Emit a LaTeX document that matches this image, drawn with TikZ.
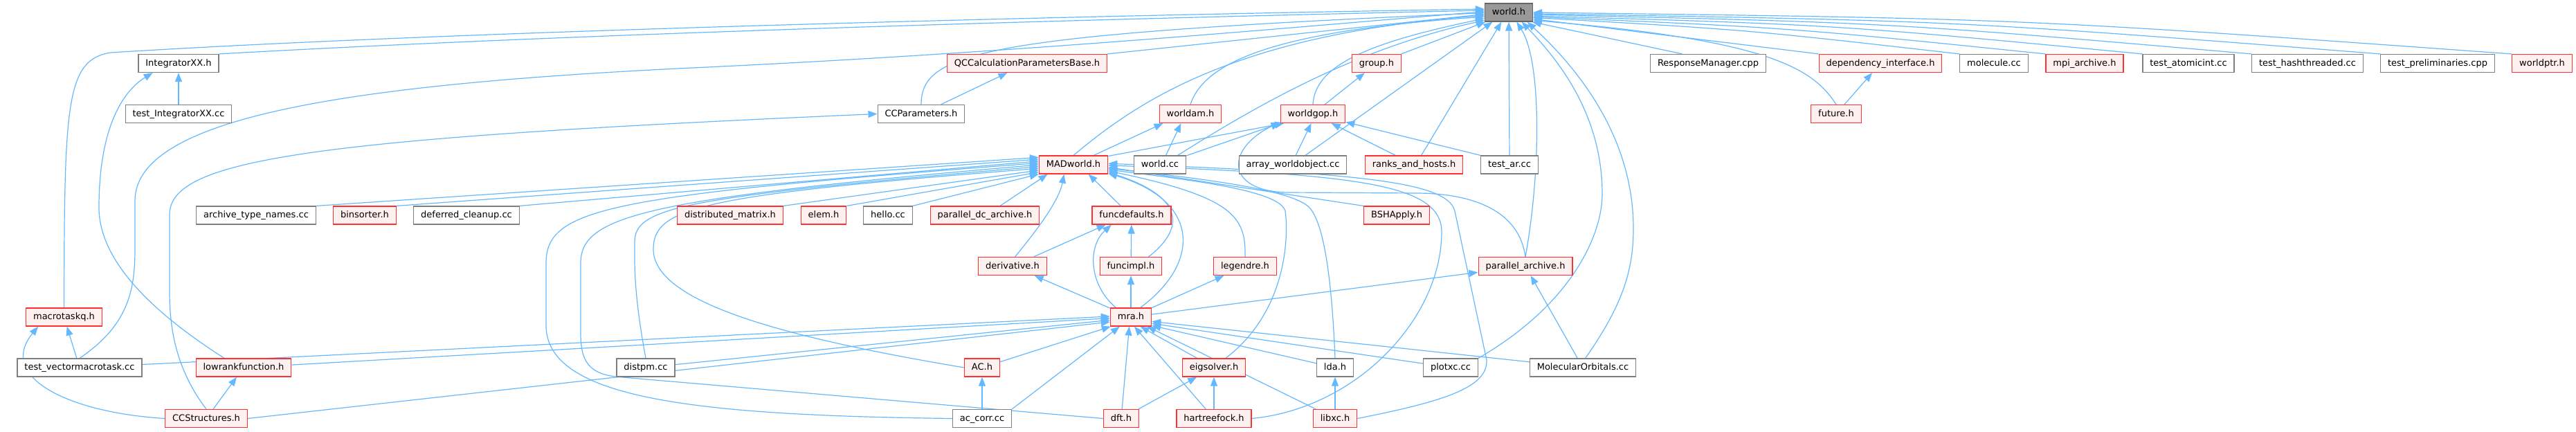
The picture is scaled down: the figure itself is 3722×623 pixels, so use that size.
\documentclass[tikz,border=0pt]{standalone}
\usepackage{fontspec}
\setmainfont{DejaVu Sans}
\usepackage{tikz}
\usetikzlibrary{arrows.meta, backgrounds}
\definecolor{edgeblue}{HTML}{63B8FF}
\definecolor{hdrred}{HTML}{FF3030}
\definecolor{hdrfill}{HTML}{FFF0F0}
\definecolor{srcgrey}{HTML}{7F7F7F}
\definecolor{rootfill}{HTML}{999999}
\definecolor{rootline}{HTML}{666666}

\begin{document}
\begin{tikzpicture}[
  x=0.5pt, y=-0.5pt,
  file/.style={rectangle, draw=srcgrey, fill=white, line width=0.6pt, minimum height=13pt, inner xsep=5.2pt, inner ysep=0pt, text height=4.9pt, text depth=1.4pt, font=\fontsize{6.5}{7.5}\selectfont},
  hdr/.style={file, draw=hdrred, fill=hdrfill},
  root/.style={file, draw=rootline, fill=rootfill},
  dep/.style={-{Triangle[length=6.5pt, width=5pt]}, edgeblue, line width=0.6pt}
]
  \useasboundingbox (0,0) rectangle (3722,623);

  \node[root] (world) at (2180,18) {world.h};

  \node[file] (integ) at (258,91.5) {IntegratorXX.h};
  \node[hdr] (qcc) at (1484,91.5) {QCCalculationParametersBase.h};
  \node[hdr] (group) at (1989,91.5) {group.h};
  \node[file] (respmgr) at (2468,91.5) {ResponseManager.cpp};
  \node[hdr] (depif) at (2717,91.5) {dependency\_interface.h};
  \node[file] (molcc) at (2881,91.5) {molecule.cc};
  \node[hdr] (mpiar) at (3012,91.5) {mpi\_archive.h};
  \node[file] (tatomic) at (3162,91.5) {test\_atomicint.cc};
  \node[file] (thash) at (3334,91.5) {test\_hashthreaded.cc};
  \node[file] (tprelim) at (3522,91.5) {test\_preliminaries.cpp};
  \node[hdr] (worldptr) at (3673,91.5) {worldptr.h};

  \node[file] (tinteg) at (258,164.5) {test\_IntegratorXX.cc};
  \node[file] (ccparam) at (1331,164.5) {CCParameters.h};
  \node[hdr] (worldam) at (1720,164.5) {worldam.h};
  \node[hdr] (worldgop) at (1897,164.5) {worldgop.h};
  \node[hdr] (future) at (2653,164.5) {future.h};

  \node[hdr] (madworld) at (1551,238) {MADworld.h};
  \node[file] (worldcc) at (1676,238) {world.cc};
  \node[file] (arrwo) at (1868,238) {array\_worldobject.cc};
  \node[hdr] (ranks) at (2043,238) {ranks\_and\_hosts.h};
  \node[file] (testar) at (2181,238) {test\_ar.cc};

  \node[file] (archnames) at (370,311) {archive\_type\_names.cc};
  \node[hdr] (binsorter) at (527,311) {binsorter.h};
  \node[file] (defclean) at (674,311) {deferred\_cleanup.cc};
  \node[hdr] (distmat) at (1055,311) {distributed\_matrix.h};
  \node[hdr] (elem) at (1190,311) {elem.h};
  \node[file] (hello) at (1283,311) {hello.cc};
  \node[hdr] (pdcarch) at (1423,311) {parallel\_dc\_archive.h};
  \node[hdr] (funcdef) at (1635,311) {funcdefaults.h};
  \node[hdr] (bshapply) at (2018,311) {BSHApply.h};

  \node[hdr] (deriv) at (1463,384.5) {derivative.h};
  \node[hdr] (funcimpl) at (1634,384.5) {funcimpl.h};
  \node[hdr] (legendre) at (1799,384.5) {legendre.h};
  \node[hdr] (pararch) at (2204,384.5) {parallel\_archive.h};

  \node[hdr] (macrotaskq) at (92.5,458) {macrotaskq.h};
  \node[hdr] (mra) at (1634,458) {mra.h};

  \node[file] (tvecmt) at (115,531) {test\_vectormacrotask.cc};
  \node[hdr] (lowrank) at (352,531) {lowrankfunction.h};
  \node[file] (distpm) at (933,531) {distpm.cc};
  \node[hdr] (ach) at (1419,531) {AC.h};
  \node[hdr] (eigsolver) at (1754,531) {eigsolver.h};
  \node[file] (lda) at (1929,531) {lda.h};
  \node[file] (plotxc) at (2096,531) {plotxc.cc};
  \node[file] (molorb) at (2287,531) {MolecularOrbitals.cc};

  \node[hdr] (ccstruct) at (298,604.5) {CCStructures.h};
  \node[file] (accorr) at (1419,604.5) {ac\_corr.cc};
  \node[hdr] (dft) at (1620,604.5) {dft.h};
  \node[hdr] (hartree) at (1754,604.5) {hartreefock.h};
  \node[hdr] (libxc) at (1929,604.5) {libxc.h};

  \begin{scope}[on background layer]
  \draw[dep] (macrotaskq.north) .. controls (93,150) and (95,86) .. (160,76) .. controls (700,42) and (1700,20) .. (world.172);
  \draw[dep] (integ.north east) .. controls (900,45) and (1700,25) .. (world.175);
  \draw[dep] (tvecmt.north) .. controls (185,470) and (195,420) .. (195,360) -- (195,290) .. controls (195,170) and (500,122) .. (1000,98) .. controls (1500,75) and (1950,32) .. (world.178);
  \draw[dep] (ccparam.north) .. controls (1331,75) and (1420,50) .. (world.181);
  \draw[dep] (qcc.north east) -- (world.184);
  \draw[dep] (madworld.north) .. controls (1640,150) and (1780,50) .. (world.187);
  \draw[dep] (worldam.north) .. controls (1740,90) and (1840,45) .. (world.190);
  \draw[dep] (worldgop.north) .. controls (1900,95) and (1975,62) .. (world.194);
  \draw[dep] (worldcc.28) .. controls (1820,150) and (1960,70) .. (world.198);
  \draw[dep] (group) -- (world.202);
  \draw[dep] (arrwo.37) -- (world.210);
  \draw[dep] (ranks.52) -- (world.232);
  \draw[dep] (testar) -- (world);
  \draw[dep] (pararch.north) .. controls (2226,250) and (2228,90) .. (world.310);
  \draw[dep] (plotxc.north east) .. controls (2270,440) and (2315,340) .. (2315,280) .. controls (2315,160) and (2245,80) .. (world.324);
  \draw[dep] (molorb.75) .. controls (2345,440) and (2360,390) .. (2360,330) .. controls (2360,190) and (2270,90) .. (world.333);
  \draw[dep] (respmgr.160) -- (world.338);
  \draw[dep] (future.north) .. controls (2620,100) and (2560,58) .. (world.342);
  \draw[dep] (depif.north west) -- (world.345);
  \draw[dep] (molcc.north west) .. controls (2524,43) .. (world.348);
  \draw[dep] (mpiar.north west) .. controls (2585,40) .. (world.350);
  \draw[dep] (tatomic.north west) .. controls (2655,36) .. (world.352);
  \draw[dep] (thash.north west) .. controls (2734,33) .. (world.355);
  \draw[dep] (tprelim.north west) .. controls (2827,30) .. (world.357);
  \draw[dep] (worldptr.north west) .. controls (2923,27) .. (world.0);

  \draw[dep] (archnames.north east) -- (madworld.168);
  \draw[dep] (binsorter.north east) -- (madworld.171);
  \draw[dep] (defclean.north east) -- (madworld.174);
  \draw[dep] (accorr.west) .. controls (1000,600) and (789,575) .. (789,470) -- (789,380) .. controls (789,300) and (880,283) .. (madworld.177);
  \draw[dep] (dft.west) -- (900,545) .. controls (848,542) and (839,520) .. (839,480) -- (839,380) .. controls (839,312) and (930,287) .. (madworld.180);
  \draw[dep] (distpm.north) .. controls (915,420) and (917,380) .. (917,350) .. controls (917,300) and (980,285) .. (madworld.183);
  \draw[dep] (ach.west) .. controls (1150,490) and (944,440) .. (944,360) .. controls (944,300) and (1010,282) .. (madworld.186);
  \draw[dep] (distmat.north east) -- (madworld.189);
  \draw[dep] (elem.north east) -- (madworld.192);
  \draw[dep] (hello.north east) -- (madworld.195);
  \draw[dep] ([xshift=11pt]pdcarch.north) -- (madworld.200);
  \draw[dep] (deriv.75) .. controls (1500,330) and (1530,290) .. (madworld.225);
  \draw[dep] (funcdef.139) -- (madworld.328);
  \draw[dep] (mra.45) .. controls (1735,380) and (1735,290) .. (madworld.-14);
  \draw[dep] (funcimpl.28) .. controls (1712,330) and (1712,285) .. (madworld.-12);
  \draw[dep] (legendre.north) .. controls (1800,315) and (1785,285) .. (madworld.-10);
  \draw[dep] (eigsolver.39) .. controls (1860,450) and (1862,340) .. (1857,305) .. controls (1850,275) and (1720,260) .. (madworld.-8);
  \draw[dep] (lda.north) .. controls (1925,420) and (1915,320) .. (1890,298) .. controls (1860,272) and (1720,256) .. (madworld.-6);
  \draw[dep] (bshapply.north west) -- (madworld.-4);
  \draw[dep] (hartree.east) .. controls (1960,590) and (2083,460) .. (2083,335) .. controls (2083,265) and (1960,252) .. (madworld.-1);
  \draw[dep] (libxc.east) .. controls (2085,580) and (2150,560) .. (2148,520) -- (2102,305) .. controls (2092,262) and (1960,250) .. (madworld.2);

  \draw[dep] (madworld.25) -- (worldam.199);
  \draw[dep] (madworld.14) -- (worldgop.198);
  \draw[dep] (worldcc.58) -- (worldam.225);
  \draw[dep] (worldcc.19) -- (worldgop.196);
  \draw[dep] (arrwo.73) -- (worldgop.260);
  \draw[dep] (ranks.153) -- (worldgop.333);
  \draw[dep] (testar.north west) -- (worldgop.346);
  \draw[dep] (pararch.north) .. controls (2195,305) and (2130,280) .. (2050,279) -- (1860,278) .. controls (1770,276) and (1770,215) .. (worldgop.194);
  \draw[dep] (worldgop) -- (group);

  \draw[dep] (ccparam) -- (qcc);
  \draw[dep] (ccstruct.north) .. controls (252,530) and (245,470) .. (245,420) -- (245,310) .. controls (245,230) and (450,200) .. (ccparam.west);
  \draw[dep] (ccstruct.west) .. controls (100,596) and (-5,545) .. (macrotaskq.200);
  \draw[dep] (ccstruct) -- (lowrank);
  \draw[dep] (tvecmt) -- (macrotaskq);
  \draw[dep] (lowrank.154) .. controls (250,470) and (143,390) .. (143,300) .. controls (143,180) and (180,130) .. (integ.200);
  \draw[dep] (tinteg) -- (integ);
  \draw[dep] (future) -- (depif);

  \draw[dep] (mra.148) .. controls (1572,410) and (1572,355) .. (funcdef.205);
  \draw[dep] (mra) -- (funcimpl);
  \draw[dep] (mra) -- (deriv);
  \draw[dep] (mra) -- (legendre);
  \draw[dep] (mra) -- (pararch);
  \draw[dep] (deriv) -- (funcdef.200);
  \draw[dep] (funcimpl) -- (funcdef);

  \draw[dep] (tvecmt) -- (mra.178);
  \draw[dep] (lowrank) -- (mra.183);
  \draw[dep] (distpm) -- (mra.188);
  \draw[dep] (ccstruct.east) -- (mra.193);
  \draw[dep] (ach) -- (mra.205);
  \draw[dep] (accorr.north east) -- (mra.220);
  \draw[dep] (dft) -- (mra.260);
  \draw[dep] (hartree) -- (mra.290);
  \draw[dep] (eigsolver) -- (mra.315);
  \draw[dep] (libxc) -- (mra.330);
  \draw[dep] (lda) -- (mra.338);
  \draw[dep] (plotxc) -- (mra.343);
  \draw[dep] (molorb) -- (mra.348);

  \draw[dep] (accorr) -- (ach);
  \draw[dep] (dft) -- (eigsolver);
  \draw[dep] (hartree) -- (eigsolver);
  \draw[dep] (libxc) -- (lda);
  \draw[dep] (molorb) -- (pararch);
  \end{scope}
\end{tikzpicture}
\end{document}
